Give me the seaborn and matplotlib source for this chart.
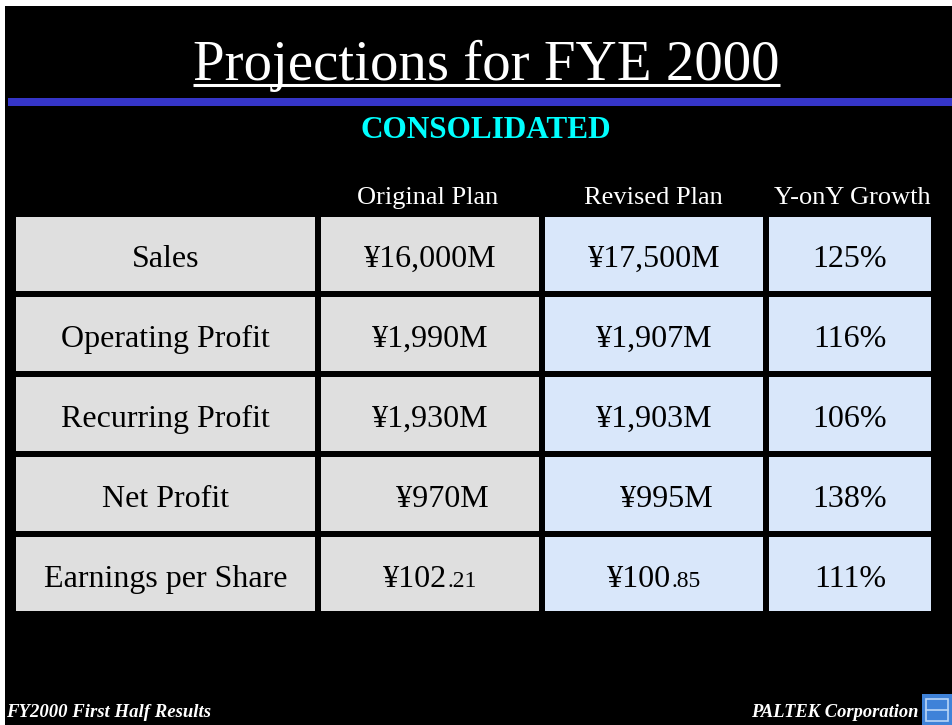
import matplotlib
matplotlib.use("Agg")
import matplotlib.pyplot as plt
from matplotlib.colors import ListedColormap
from matplotlib.patches import Rectangle
from matplotlib.lines import Line2D
import numpy as np
import pandas as pd
import seaborn as sns

# ---------------- data ----------------
title = "Projections for FYE 2000"
subtitle = "CONSOLIDATED"
column_headers = ["Original Plan", "Revised Plan", "Y-onY Growth"]
metrics = ["Sales", "Operating Profit", "Recurring Profit", "Net Profit", "Earnings per Share"]
original_plan = ["¥16,000M", "¥1,990M", "¥1,930M", "   ¥970M", "¥102.21"]
revised_plan = ["¥17,500M", "¥1,907M", "¥1,903M", "   ¥995M", "¥100.85"]
yoy_growth = ["125%", "116%", "106%", "138%", "111%"]
footer_left = "FY2000 First Half Results"
footer_right = "PALTEK Corporation"

# ---------------- style ----------------
sns.set_theme(style="white")
plt.rcParams["font.family"] = ["Liberation Serif", "DejaVu Serif"]

W, H = 952, 725
fig = plt.figure(figsize=(W / 100, H / 100), dpi=100, facecolor="white")


def fx(px):
    return px / W


def fy(py):
    return 1 - py / H


# black slide area (white frame at top / left)
fig.add_artist(Rectangle((fx(5), 0), 1 - fx(5), fy(6), transform=fig.transFigure,
                         facecolor="black", edgecolor="none", zorder=0))
# blue rule
fig.add_artist(Rectangle((fx(8), fy(106)), 1 - fx(8), (106 - 98) / H, transform=fig.transFigure,
                         facecolor="#3535c8", edgecolor="none", zorder=1))

# title + underline
fig.text(fx(486.5), fy(80), title, color="white", fontsize=41, ha="center", va="baseline")
fig.add_artist(Line2D([fx(193), fx(780)], [fy(85), fy(85)], transform=fig.transFigure,
                      color="white", linewidth=2.2, solid_capstyle="butt"))

# subtitle
fig.text(fx(485.5), fy(138), subtitle, color="#00ffff", fontsize=22.5, fontweight="bold",
         ha="center", va="baseline")

# ---------------- table via seaborn heatmaps ----------------
gray = "#dfdfdf"
blue = "#d9e7fa"
cmap = ListedColormap([gray, blue])

columns = [metrics, original_plan, revised_plan, yoy_growth]
shade = [0, 0, 1, 1]
col_px = [(13, 318), (318, 542), (542, 766), (766, 934)]
top_px, bot_px = 214, 614
header_centers = [None, 428, 653, 852]

renderer = fig.canvas.get_renderer()
body_size = 23
small_size = 17

for ci, (vals, sh, (x0, x1)) in enumerate(zip(columns, shade, col_px)):
    ax = fig.add_axes([fx(x0), fy(bot_px), (x1 - x0) / W, (bot_px - top_px) / H])
    df = pd.DataFrame({"v": [sh] * len(vals)}, index=metrics)
    sns.heatmap(df, ax=ax, cmap=cmap, vmin=0, vmax=1, cbar=False,
                linewidths=2.9, linecolor="black", xticklabels=False, yticklabels=False)
    ax.set_xlabel("")
    ax.set_ylabel("")
    for ri, s in enumerate(vals):
        y = ri + 0.66
        if "." in s:
            main, frac = s.split(".")
            frac = "." + frac
            t1 = ax.text(0.5, y, main, fontsize=body_size, color="black", ha="left", va="baseline")
            t2 = ax.text(0.5, y, frac, fontsize=small_size, color="black", ha="left", va="baseline")
            w1 = t1.get_window_extent(renderer).width
            w2 = t2.get_window_extent(renderer).width
            t1.remove()
            t2.remove()
            tot = w1 + w2
            ax.annotate(main, xy=(0.5, y), xycoords="data", xytext=(-tot / 2, 0),
                        textcoords="offset pixels", fontsize=body_size, color="black",
                        ha="left", va="baseline")
            ax.annotate(frac, xy=(0.5, y), xycoords="data", xytext=(-tot / 2 + w1, 0),
                        textcoords="offset pixels", fontsize=small_size, color="black",
                        ha="left", va="baseline")
        else:
            ax.text(0.5, y, s, fontsize=body_size, color="black", ha="center", va="baseline")
    if ci > 0:
        fig.text(fx(header_centers[ci]), fy(204), column_headers[ci - 1], color="white",
                 fontsize=19, ha="center", va="baseline")

# ---------------- footer ----------------
fig.text(fx(6), fy(717), footer_left, color="white", fontsize=13.5, fontweight="bold",
         fontstyle="italic", ha="left", va="baseline")
fig.text(fx(918), fy(717), footer_right, color="white", fontsize=13.3, fontweight="bold",
         fontstyle="italic", ha="right", va="baseline")

# small logo
fig.add_artist(Rectangle((fx(922), 0), 30 / W, 31 / H, transform=fig.transFigure,
                         facecolor="#3f82d8", edgecolor="none", zorder=2))
fig.add_artist(Rectangle((fx(926), fy(721)), 22 / W, 22 / H, transform=fig.transFigure,
                         facecolor="none", edgecolor="#b9d6f7", linewidth=1.2, zorder=3))
fig.add_artist(Line2D([fx(926), fx(948)], [fy(710), fy(710)], transform=fig.transFigure,
                      color="#b9d6f7", linewidth=1.2, zorder=3))

fig.savefig("out.png", dpi=100, facecolor=fig.get_facecolor())
